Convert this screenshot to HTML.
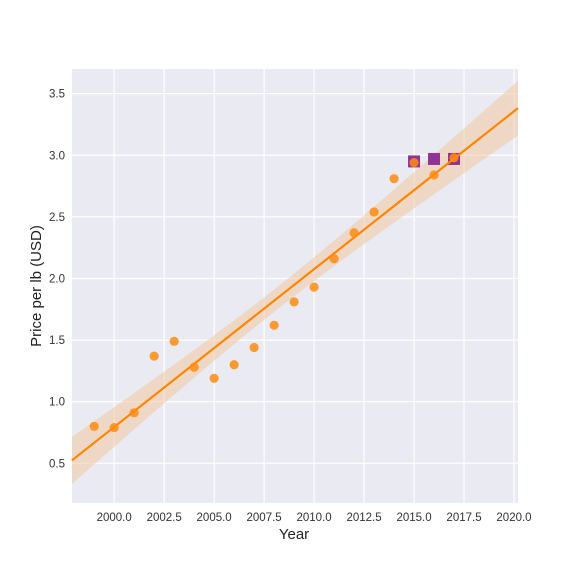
<!DOCTYPE html>
<html><head><meta charset="utf-8"><style>
body{margin:0;background:#fff;font-family:"Liberation Sans",sans-serif}
svg text{font-family:"Liberation Sans",sans-serif}
</style></head><body>
<svg id="chart" width="576" height="576">
<rect x="72" y="69" width="446" height="434" fill="#eaeaf2"/>
<g id="grid"></g><g id="band"></g><g id="marks"></g><g id="axes"></g>
<text x="294" y="539" text-anchor="middle" font-size="15" fill="#222">Year</text>
<text transform="translate(41,286) rotate(-90)" text-anchor="middle" font-size="15" fill="#222">Price per lb (USD)</text>
</svg>
<script>
const years=[1999,2000,2001,2002,2003,2004,2005,2006,2007,2008,2009,2010,2011,2012,2013,2014,2015,2016,2017];
const prices=[0.80,0.79,0.91,1.37,1.49,1.28,1.19,1.30,1.44,1.62,1.81,1.93,2.16,2.37,2.54,2.81,2.94,2.84,2.98];
const sqYears=[2015,2016,2017];
const sqPrices=[2.95,2.97,2.97];
const xTicks=[2000,2002.5,2005,2007.5,2010,2012.5,2015,2017.5,2020];
const yTicks=[0.5,1.0,1.5,2.0,2.5,3.0,3.5];
const NS="http://www.w3.org/2000/svg";
const X0=1997.89,X1=2020.2,Y0=0.178,Y1=3.70,L=72,R=518,T=69,B=503;
const x=v=>L+(v-X0)/(X1-X0)*(R-L), y=v=>B-(v-Y0)/(Y1-Y0)*(B-T);
function mk(p,tag,at){const e=document.createElementNS(NS,tag);for(const k in at)e.setAttribute(k,at[k]);document.getElementById(p).appendChild(e);return e;}
xTicks.forEach(t=>{const g=mk('grid','line',{x1:x(t),x2:x(t),y1:T,y2:B,stroke:'#fff','stroke-width':1.2});

const l=mk('axes','text',{x:x(t),y:B+18,'text-anchor':'middle','font-size':11.5,fill:'#333'});l.textContent=t.toFixed(1);
});
yTicks.forEach(t=>{const g=mk('grid','line',{x1:L,x2:R,y1:y(t),y2:y(t),stroke:'#fff','stroke-width':1.2});

const l=mk('axes','text',{x:L-7,y:y(t)+4,'text-anchor':'end','font-size':11.5,fill:'#333'});l.textContent=t.toFixed(1);
});
// regression
const n=years.length,mx=years.reduce((a,b)=>a+b)/n,my=prices.reduce((a,b)=>a+b)/n;
let sxx=0,sxy=0;years.forEach((v,i)=>{sxx+=(v-mx)**2;sxy+=(v-mx)*(prices[i]-my);});
const b=sxy/sxx,a=my-b*mx;let sse=0;years.forEach((v,i)=>sse+=(prices[i]-a-b*v)**2);
const s=Math.sqrt(sse/(n-2)),tv=2.11;
const xs=[];for(let i=0;i<=50;i++)xs.push(X0+(X1-X0)*i/50);
const ci=v=>tv*s*Math.sqrt(1/n+(v-mx)**2/sxx);
let up=xs.map(v=>x(v)+','+y(a+b*v+ci(v))).join(' '),lo=xs.slice().reverse().map(v=>x(v)+','+y(a+b*v-ci(v))).join(' ');
const band=mk('band','polygon',{points:up+' '+lo,fill:'#f0c8a0','fill-opacity':0.55});

sqYears.forEach((v,i)=>{const r=mk('marks','rect',{x:x(v)-6,y:y(sqPrices[i])-6,width:12,height:12,fill:'#8b2a8f','fill-opacity':0.95});
});
const ln=mk('marks','line',{x1:x(X0),y1:y(a+b*X0),x2:x(X1),y2:y(a+b*X1),stroke:'#ff8500','stroke-width':2.2});

years.forEach((v,i)=>{const c=mk('marks','circle',{cx:x(v),cy:y(prices[i]),r:4.6,fill:'#ff8c10','fill-opacity':0.85});
});
</script>
</body></html>
